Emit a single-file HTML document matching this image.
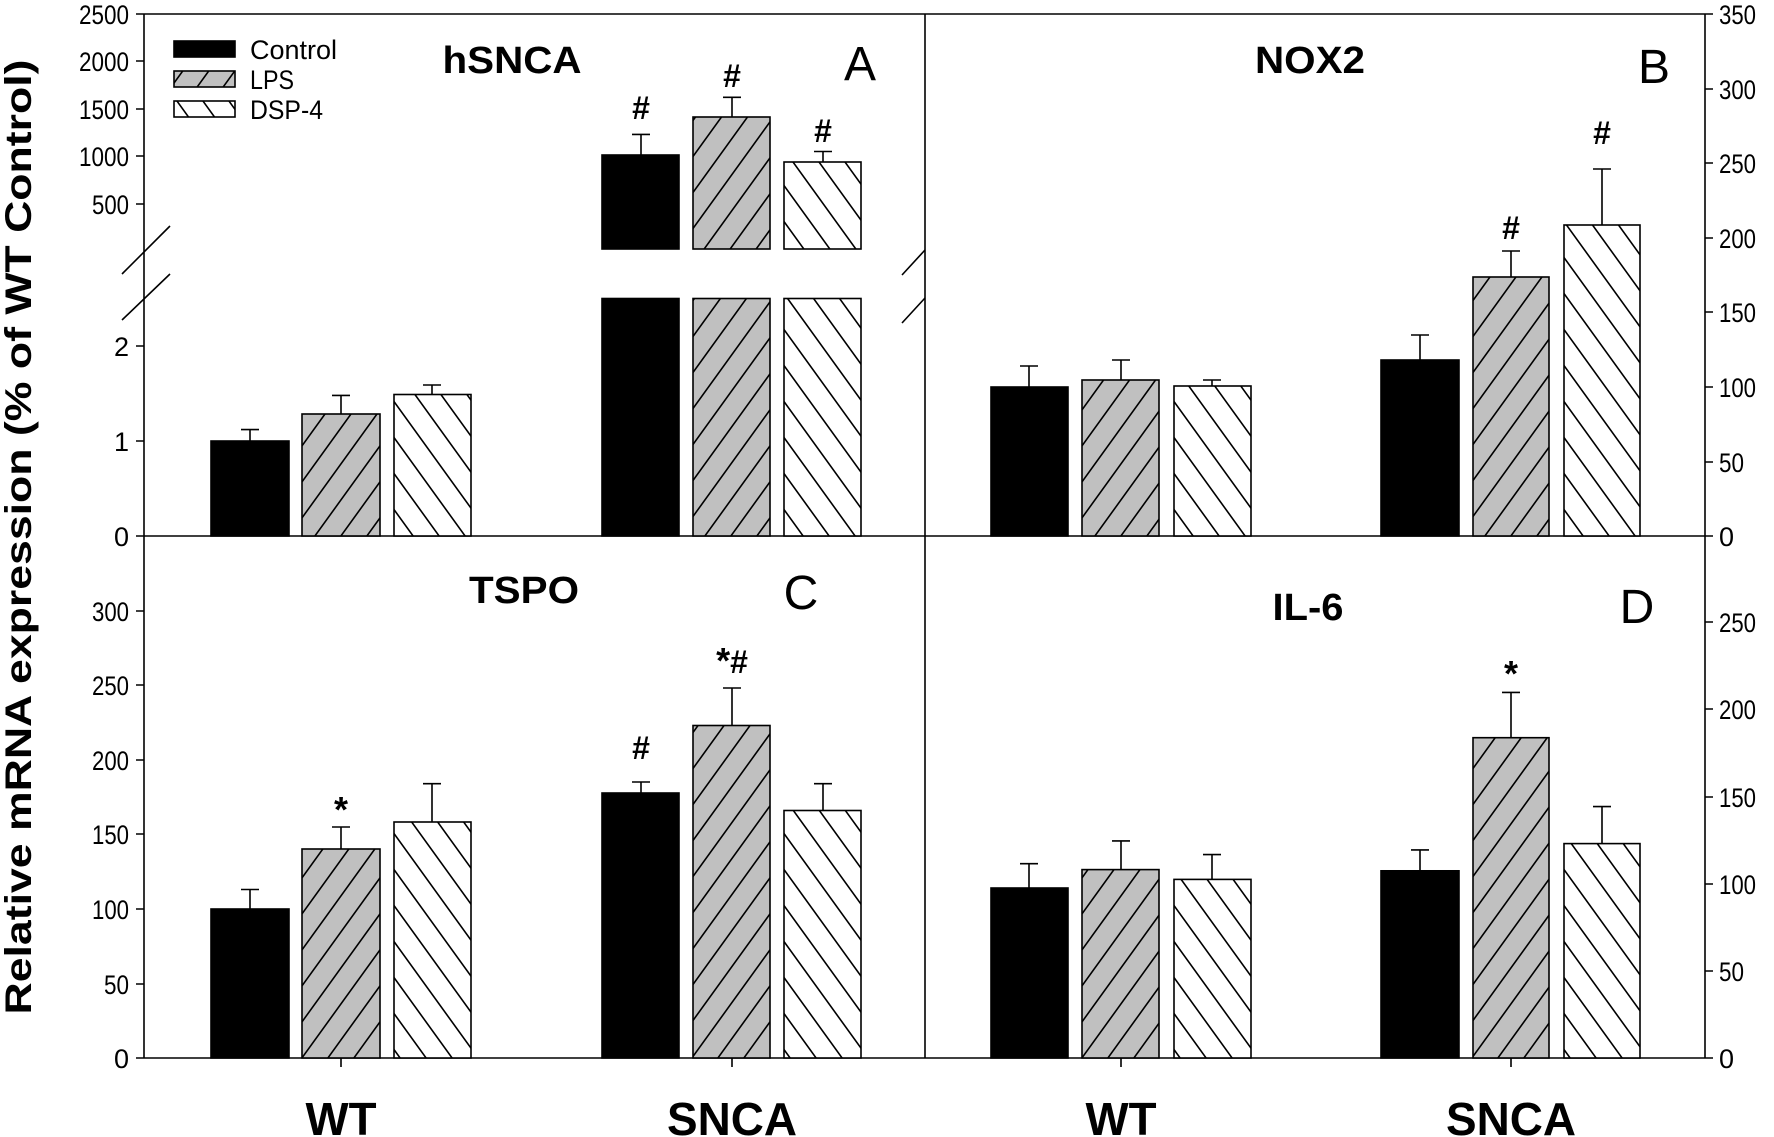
<!DOCTYPE html>
<html><head><meta charset="utf-8"><style>html,body{margin:0;padding:0;background:#fff}svg{display:block}</style></head>
<body>
<svg width="1774" height="1137" viewBox="0 0 1774 1137" xmlns="http://www.w3.org/2000/svg" font-family="Liberation Sans, Arial, sans-serif">
<defs>
<pattern id="lps" patternUnits="userSpaceOnUse" width="26" height="36">
<rect width="26" height="36" fill="#c0c0c0"/>
<path d="M-13,18 L13,-18 M0,36 L26,0 M13,54 L39,18" stroke="#000" stroke-width="1.6"/>
</pattern>
<pattern id="dsp" patternUnits="userSpaceOnUse" width="26" height="36">
<rect width="26" height="36" fill="#fff"/>
<path d="M-13,18 L13,54 M0,0 L26,36 M13,-18 L39,18" stroke="#000" stroke-width="1.6"/>
</pattern>
</defs>
<g stroke="#000" stroke-width="1.6" fill="none">
<line x1="144" y1="14" x2="1705" y2="14"/>
<line x1="144" y1="536" x2="1705" y2="536"/>
<line x1="144" y1="1058" x2="1705" y2="1058"/>
<line x1="144" y1="14" x2="144" y2="1058"/>
<line x1="925" y1="14" x2="925" y2="1058"/>
<line x1="1705" y1="14" x2="1705" y2="1058"/>
<line x1="170" y1="226" x2="122" y2="274"/>
<line x1="170" y1="274" x2="122" y2="320"/>
<line x1="925" y1="250" x2="902" y2="275"/>
<line x1="925" y1="298" x2="902" y2="323"/>
<path d="M136,14H144M136,61H144M136,109H144M136,156H144M136,204H144M136,346H144M136,441H144M136,536H144"/>
<path d="M136,611H144M136,685H144M136,760H144M136,834H144M136,909H144M136,984H144M136,1058H144"/>
<path d="M1705,14H1713M1705,89H1713M1705,163H1713M1705,238H1713M1705,312H1713M1705,387H1713M1705,462H1713M1705,536H1713"/>
<path d="M1705,622H1713M1705,709H1713M1705,797H1713M1705,884H1713M1705,971H1713M1705,1058H1713"/>
<path d="M341,1058V1067M732,1058V1067M1121,1058V1067M1511,1058V1067"/>
</g>
<g stroke="#000" stroke-width="1.6">
<rect x="211" y="441" width="78" height="95" fill="#000"/>
<rect x="302" y="414" width="78" height="122" fill="url(#lps)"/>
<rect x="394" y="394.5" width="77" height="141.5" fill="url(#dsp)"/>
<rect x="602" y="298.5" width="77" height="237.5" fill="#000"/>
<rect x="693" y="298.5" width="77" height="237.5" fill="url(#lps)"/>
<rect x="784" y="298.5" width="77" height="237.5" fill="url(#dsp)"/>
<rect x="602" y="155" width="77" height="94" fill="#000"/>
<rect x="693" y="117" width="77" height="132" fill="url(#lps)"/>
<rect x="784" y="162" width="77" height="87" fill="url(#dsp)"/>
<rect x="991" y="387" width="77" height="149" fill="#000"/>
<rect x="1082" y="380" width="77" height="156" fill="url(#lps)"/>
<rect x="1174" y="386" width="77" height="150" fill="url(#dsp)"/>
<rect x="1381" y="360" width="78" height="176" fill="#000"/>
<rect x="1473" y="277" width="76" height="259" fill="url(#lps)"/>
<rect x="1564" y="225" width="76" height="311" fill="url(#dsp)"/>
<rect x="211" y="909" width="78" height="149" fill="#000"/>
<rect x="302" y="849" width="78" height="209" fill="url(#lps)"/>
<rect x="394" y="822" width="77" height="236" fill="url(#dsp)"/>
<rect x="602" y="793" width="77" height="265" fill="#000"/>
<rect x="693" y="725.5" width="77" height="332.5" fill="url(#lps)"/>
<rect x="784" y="810.5" width="77" height="247.5" fill="url(#dsp)"/>
<rect x="991" y="888" width="77" height="170" fill="#000"/>
<rect x="1082" y="869.6" width="77" height="188.4" fill="url(#lps)"/>
<rect x="1174" y="879.4" width="77" height="178.6" fill="url(#dsp)"/>
<rect x="1381" y="870.8" width="78" height="187.2" fill="#000"/>
<rect x="1473" y="737.7" width="76" height="320.3" fill="url(#lps)"/>
<rect x="1564" y="843.6" width="76" height="214.4" fill="url(#dsp)"/>
</g>
<g stroke="#000" stroke-width="1.6" fill="none">
<path d="M250,441V429.6M241,429.6H259 M341,414V395.4M332,395.4H350 M432,394.5V385M423,385H441"/>
<path d="M641,155V134.4M632,134.4H650 M732,117V97.3M723,97.3H741 M823,162V151.5M814,151.5H832"/>
<path d="M1029,387V366M1020,366H1038 M1121,380V360M1112,360H1130 M1212,386V380M1203,380H1221"/>
<path d="M1420,360V335M1411,335H1429 M1511,277V251M1502,251H1520 M1602,225V169M1593,169H1611"/>
<path d="M250,909V889.5M241,889.5H259 M341,849V827M332,827H350 M432,822V783.7M423,783.7H441"/>
<path d="M641,793V782M632,782H650 M732,725.5V688M723,688H741 M823,810.5V783.7M814,783.7H832"/>
<path d="M1029,888V863.7M1020,863.7H1038 M1121,869.6V840.9M1112,840.9H1130 M1212,879.4V854.6M1203,854.6H1221"/>
<path d="M1420,870.8V849.9M1411,849.9H1429 M1511,737.7V692.4M1502,692.4H1520 M1602,843.6V806.6M1593,806.6H1611"/>
</g>
<g font-size="32" font-weight="bold" text-anchor="middle" fill="#000">
<text x="641" y="119">#</text>
<text x="732" y="87">#</text>
<text x="823" y="142">#</text>
<text x="1511" y="239">#</text>
<text x="1602" y="144">#</text>
<text x="341" y="822" font-size="36">*</text>
<text x="641" y="759">#</text>
<text x="732" y="673"><tspan font-size="36">*</tspan>#</text>
<text x="1511" y="686" font-size="36">*</text>
</g>
<g font-size="27" text-anchor="end" fill="#000" lengthAdjust="spacingAndGlyphs">
<text x="129" y="24" textLength="50" lengthAdjust="spacingAndGlyphs">2500</text><text x="129" y="71" textLength="50" lengthAdjust="spacingAndGlyphs">2000</text><text x="129" y="119" textLength="50" lengthAdjust="spacingAndGlyphs">1500</text><text x="129" y="166" textLength="50" lengthAdjust="spacingAndGlyphs">1000</text><text x="129" y="214" textLength="37" lengthAdjust="spacingAndGlyphs">500</text>
<text x="129" y="356">2</text><text x="129" y="451">1</text><text x="129" y="546">0</text>
<text x="129" y="621" textLength="37" lengthAdjust="spacingAndGlyphs">300</text><text x="129" y="695" textLength="37" lengthAdjust="spacingAndGlyphs">250</text><text x="129" y="770" textLength="37" lengthAdjust="spacingAndGlyphs">200</text><text x="129" y="844" textLength="37" lengthAdjust="spacingAndGlyphs">150</text><text x="129" y="919" textLength="37" lengthAdjust="spacingAndGlyphs">100</text><text x="129" y="994" textLength="25" lengthAdjust="spacingAndGlyphs">50</text><text x="129" y="1068">0</text>
</g>
<g font-size="27" text-anchor="start" fill="#000">
<text x="1719" y="24" textLength="37" lengthAdjust="spacingAndGlyphs">350</text><text x="1719" y="99" textLength="37" lengthAdjust="spacingAndGlyphs">300</text><text x="1719" y="173" textLength="37" lengthAdjust="spacingAndGlyphs">250</text><text x="1719" y="248" textLength="37" lengthAdjust="spacingAndGlyphs">200</text><text x="1719" y="322" textLength="37" lengthAdjust="spacingAndGlyphs">150</text><text x="1719" y="397" textLength="37" lengthAdjust="spacingAndGlyphs">100</text><text x="1719" y="472" textLength="25" lengthAdjust="spacingAndGlyphs">50</text><text x="1719" y="546">0</text>
<text x="1719" y="632" textLength="37" lengthAdjust="spacingAndGlyphs">250</text><text x="1719" y="719" textLength="37" lengthAdjust="spacingAndGlyphs">200</text><text x="1719" y="807" textLength="37" lengthAdjust="spacingAndGlyphs">150</text><text x="1719" y="894" textLength="37" lengthAdjust="spacingAndGlyphs">100</text><text x="1719" y="981" textLength="25" lengthAdjust="spacingAndGlyphs">50</text><text x="1719" y="1068">0</text>
</g>
<g font-size="38" font-weight="bold" text-anchor="middle" fill="#000">
<text x="512" y="73" textLength="139" lengthAdjust="spacingAndGlyphs">hSNCA</text>
<text x="1310" y="73" textLength="110" lengthAdjust="spacingAndGlyphs">NOX2</text>
<text x="524" y="603" textLength="110" lengthAdjust="spacingAndGlyphs">TSPO</text>
<text x="1308" y="620" textLength="71" lengthAdjust="spacingAndGlyphs">IL-6</text>
</g>
<g font-size="48" text-anchor="middle" fill="#000">
<text x="860" y="80">A</text>
<text x="1654" y="83">B</text>
<text x="801" y="609">C</text>
<text x="1637" y="623">D</text>
</g>
<g font-size="46" font-weight="bold" text-anchor="middle" fill="#000">
<text x="341" y="1135" textLength="71" lengthAdjust="spacingAndGlyphs">WT</text>
<text x="732" y="1135" textLength="130" lengthAdjust="spacingAndGlyphs">SNCA</text>
<text x="1121" y="1135" textLength="71" lengthAdjust="spacingAndGlyphs">WT</text>
<text x="1511" y="1135" textLength="130" lengthAdjust="spacingAndGlyphs">SNCA</text>
</g>
<text transform="translate(31,537) rotate(-90)" font-size="37" font-weight="bold" text-anchor="middle" fill="#000" textLength="955" lengthAdjust="spacingAndGlyphs">Relative mRNA expression (% of WT Control)</text>
<g stroke="#000" stroke-width="1.6">
<rect x="174" y="41" width="61" height="16" fill="#000"/>
<rect x="174" y="71" width="61" height="16" fill="url(#lps)"/>
<rect x="174" y="101" width="61" height="16" fill="url(#dsp)"/>
</g>
<g font-size="27" fill="#000">
<text x="250" y="59" textLength="87" lengthAdjust="spacingAndGlyphs">Control</text>
<text x="250" y="89" textLength="44" lengthAdjust="spacingAndGlyphs">LPS</text>
<text x="250" y="119" textLength="73" lengthAdjust="spacingAndGlyphs">DSP-4</text>
</g>
</svg>
</body></html>
